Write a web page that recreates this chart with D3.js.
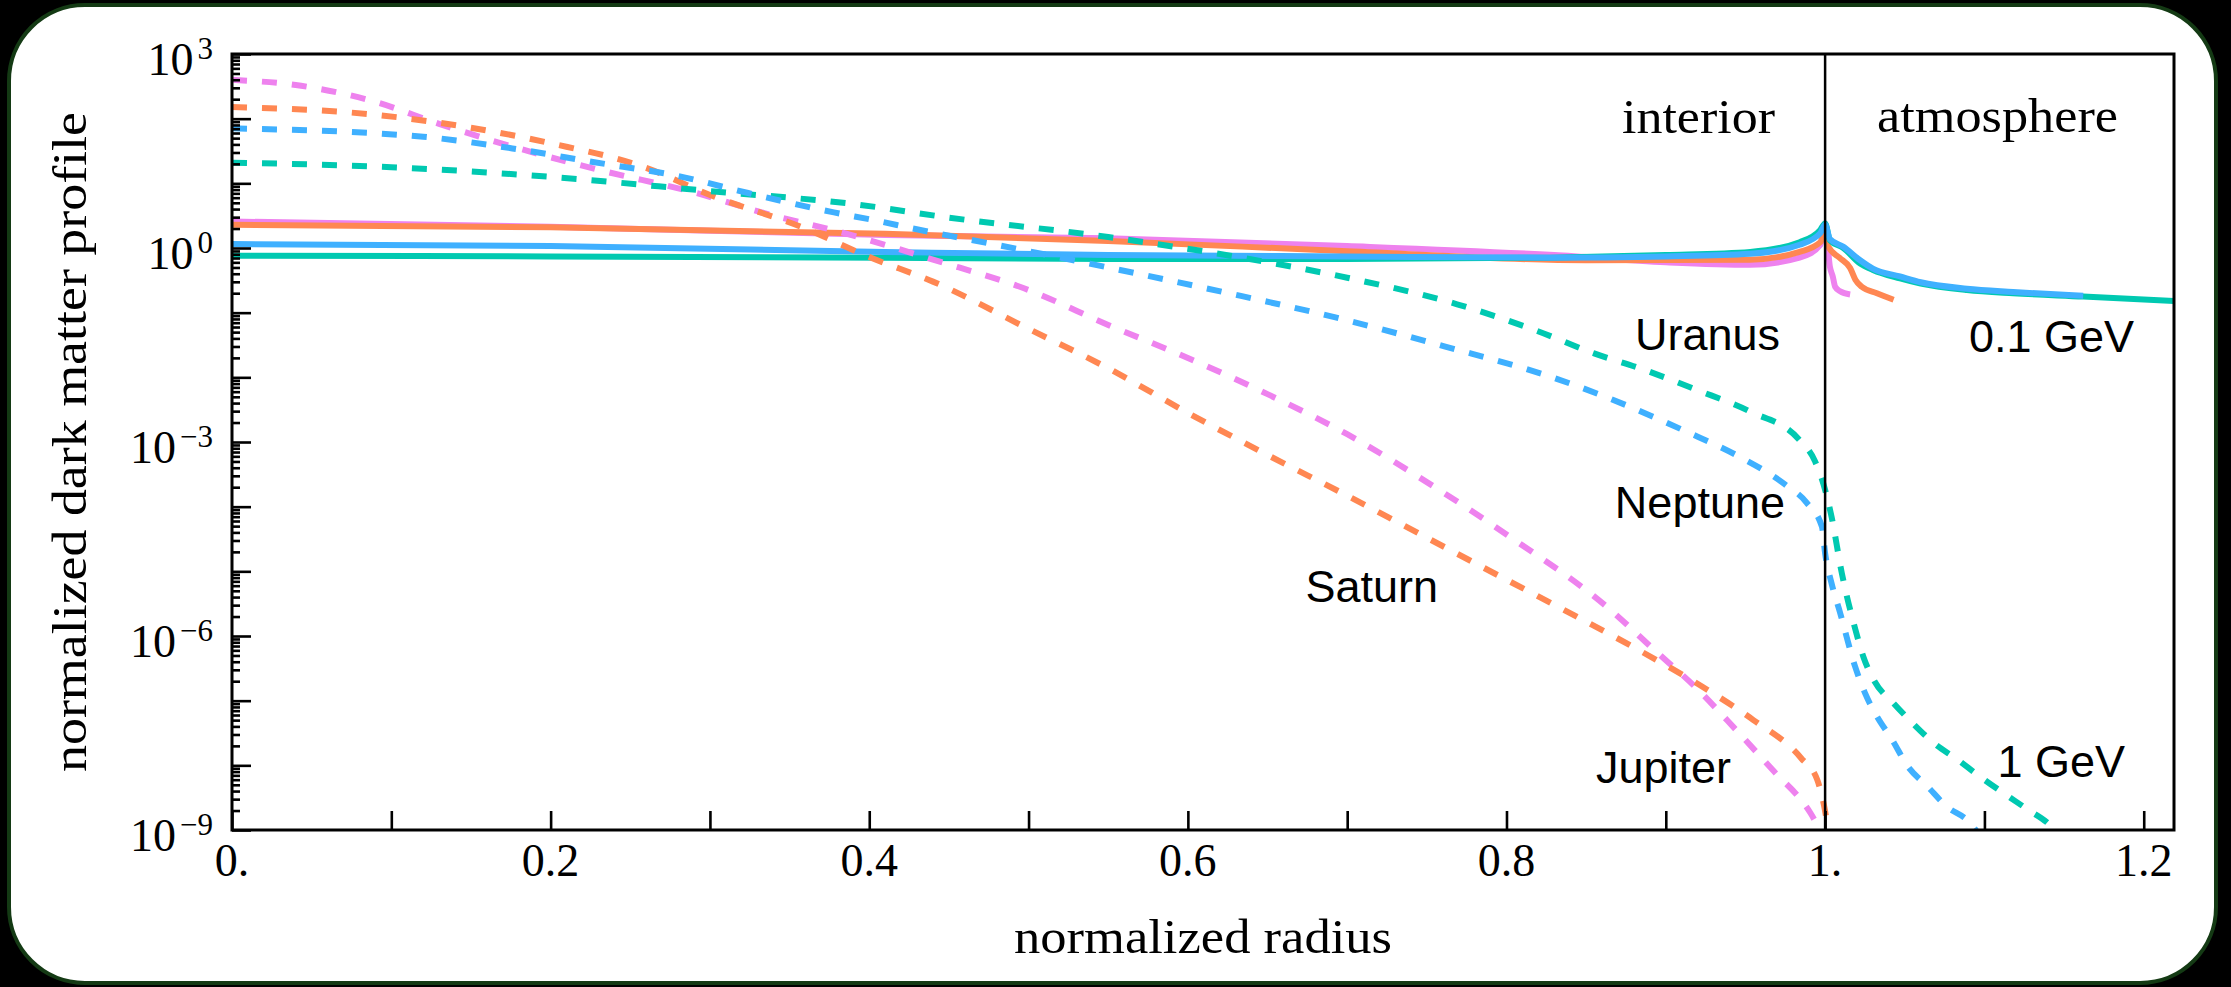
<!DOCTYPE html>
<html>
<head>
<meta charset="utf-8">
<script src="https://cdn.jsdelivr.net/npm/d3@7"></script>
<style>
  body { margin: 0; background: #000; }
  svg { display: block; }
</style>
</head>
<body>
<svg id="chart" width="2231" height="987"></svg>
<script>
// values are log10 of the normalized profile
// 0.1 GeV (solid)
const jupiterLightR = [0, 0.2, 0.41, 0.55, 0.7, 0.83, 0.9, 0.953, 0.984, 0.997, 1.0, 1.003, 1.0048, 1.0063, 1.0094, 1.0157];
const jupiterLightLog = [0.41, 0.33, 0.20, 0.15, 0.03, -0.11, -0.22, -0.26, -0.15, 0.05, 0.38, -0.29, -0.44, -0.60, -0.67, -0.72];
const saturnLightR = [0, 0.2, 0.41, 0.55, 0.7, 0.85, 0.953, 0.984, 0.997, 1.0, 1.002, 1.009, 1.0157, 1.019, 1.023, 1.0325, 1.043];
const saturnLightLog = [0.36, 0.32, 0.22, 0.11, -0.05, -0.19, -0.18, -0.06, 0.09, 0.30, 0.02, -0.15, -0.31, -0.49, -0.60, -0.70, -0.80];
const uranusLightR = [0, 0.2, 0.41, 0.55, 0.7, 0.827, 0.9, 0.953, 0.984, 0.997, 1.0, 1.003, 1.0115, 1.022, 1.030, 1.047, 1.06, 1.089, 1.118, 1.162, 1.219];
const uranusLightLog = [-0.12, -0.13, -0.15, -0.17, -0.17, -0.15, -0.11, -0.06, 0.09, 0.28, 0.38, 0.12, 0.0, -0.24, -0.34, -0.47, -0.55, -0.65, -0.70, -0.75, -0.82];
const neptuneLightR = [0, 0.2, 0.41, 0.55, 0.7, 0.827, 0.9, 0.953, 0.984, 0.997, 1.0, 1.003, 1.0115, 1.022, 1.030, 1.047, 1.06, 1.089, 1.118, 1.162];
const neptuneLightLog = [0.06, 0.03, -0.06, -0.11, -0.13, -0.15, -0.13, -0.09, 0.05, 0.23, 0.36, 0.14, 0.02, -0.19, -0.32, -0.44, -0.53, -0.63, -0.68, -0.74];

// 1 GeV (dashed)
const jupiterHeavyR = [0, 0.04, 0.09, 0.13, 0.18, 0.23, 0.29, 0.34, 0.38, 0.44, 0.50, 0.55, 0.60, 0.65, 0.70, 0.75, 0.80, 0.865, 0.8925, 0.919, 0.944, 0.967, 0.9906, 0.998];
const jupiterHeavyLog = [2.60, 2.52, 2.26, 1.92, 1.54, 1.21, 0.86, 0.50, 0.26, -0.18, -0.65, -1.19, -1.70, -2.26, -2.88, -3.62, -4.43, -5.59, -6.21, -6.80, -7.45, -8.07, -8.73, -9.05];
const saturnHeavyR = [0, 0.09, 0.15, 0.20, 0.26, 0.30, 0.36, 0.40, 0.44, 0.50, 0.55, 0.60, 0.65, 0.70, 0.75, 0.80, 0.834, 0.881, 0.926, 0.955, 0.985, 0.995, 0.9994, 1.0023];
const saturnHeavyLog = [2.18, 2.06, 1.86, 1.62, 1.24, 0.82, 0.30, -0.14, -0.52, -1.25, -1.86, -2.55, -3.20, -3.83, -4.48, -5.13, -5.57, -6.19, -6.83, -7.30, -7.89, -8.22, -8.63, -9.05];
const uranusHeavyR = [0, 0.1, 0.2, 0.3, 0.39, 0.45, 0.55, 0.629, 0.70, 0.769, 0.819, 0.855, 0.886, 0.919, 0.953, 0.984, 0.9937, 1.0, 1.004, 1.0105, 1.019, 1.024, 1.031, 1.043, 1.055, 1.068, 1.083, 1.097, 1.112, 1.127, 1.141, 1.146];
const uranusHeavyLog = [1.32, 1.25, 1.10, 0.88, 0.68, 0.47, 0.17, -0.13, -0.46, -0.87, -1.28, -1.63, -1.88, -2.19, -2.53, -2.97, -3.30, -3.74, -4.15, -5.03, -5.90, -6.32, -6.70, -7.04, -7.35, -7.65, -7.91, -8.17, -8.43, -8.68, -8.92, -9.05];
const neptuneHeavyR = [0, 0.12, 0.176, 0.2266, 0.2825, 0.324, 0.3778, 0.403, 0.4298, 0.4819, 0.5517, 0.622, 0.692, 0.761, 0.830, 0.863, 0.913, 0.9456, 0.975, 0.9885, 0.998, 1.0, 1.004, 1.0094, 1.0188, 1.025, 1.0325, 1.042, 1.052, 1.064, 1.076, 1.091, 1.096];
const neptuneHeavyLog = [1.85, 1.72, 1.54, 1.33, 1.10, 0.85, 0.55, 0.43, 0.29, 0.04, -0.31, -0.68, -1.07, -1.52, -2.01, -2.31, -2.84, -3.22, -3.66, -3.94, -4.31, -4.72, -5.18, -5.64, -6.47, -6.88, -7.24, -7.60, -8.02, -8.32, -8.63, -8.89, -9.05];

const planetColors = { Jupiter: "#ee82ee", Saturn: "#ff8752", Uranus: "#00c9b1", Neptune: "#3fb0ff" };

const xTickValues = [0, 0.1, 0.2, 0.3, 0.4, 0.5, 0.6, 0.7, 0.8, 0.9, 1.0, 1.1, 1.2];
const xLabelValues = [0, 0.2, 0.4, 0.6, 0.8, 1.0, 1.2];
const xLabels = ["0.", "0.2", "0.4", "0.6", "0.8", "1.", "1.2"];
const yLabelExponents = [3, 0, -3, -6, -9];

const width = 2231, height = 987;
const margin = { top: 54, right: 57, bottom: 157, left: 232 };
const plotRight = width - margin.right;
const plotBottom = height - margin.bottom;

const serif = "'Liberation Serif', 'Times New Roman', serif";
const sans = "'Liberation Sans', Arial, sans-serif";

const svg = d3.select("#chart");

// rounded white card
svg.append("rect")
  .attr("x", 9).attr("y", 5)
  .attr("width", 2207).attr("height", 978)
  .attr("rx", 76)
  .attr("fill", "#fff")
  .attr("stroke", "#143a14")
  .attr("stroke-width", 4);

const x = d3.scaleLinear().domain([0, 1.219]).range([margin.left, plotRight]);
const y = d3.scaleLog().domain([1e-9, 1e3]).range([plotBottom, margin.top]);

svg.append("clipPath").attr("id", "plot-clip")
  .append("rect")
  .attr("x", margin.left).attr("y", margin.top)
  .attr("width", plotRight - margin.left).attr("height", plotBottom - margin.top);

const line = d3.line()
  .x((d) => x(d[0]))
  .y((d) => y(Math.pow(10, d[1])))
  .curve(d3.curveMonotoneX);

const series = [
  { planet: "Jupiter", r: jupiterLightR, v: jupiterLightLog, dashed: false },
  { planet: "Saturn", r: saturnLightR, v: saturnLightLog, dashed: false },
  { planet: "Uranus", r: uranusLightR, v: uranusLightLog, dashed: false },
  { planet: "Neptune", r: neptuneLightR, v: neptuneLightLog, dashed: false },
  { planet: "Jupiter", r: jupiterHeavyR, v: jupiterHeavyLog, dashed: true },
  { planet: "Saturn", r: saturnHeavyR, v: saturnHeavyLog, dashed: true },
  { planet: "Uranus", r: uranusHeavyR, v: uranusHeavyLog, dashed: true },
  { planet: "Neptune", r: neptuneHeavyR, v: neptuneHeavyLog, dashed: true },
];

const curves = svg.append("g").attr("clip-path", "url(#plot-clip)");
series.forEach((s) => {
  curves.append("path")
    .datum(s.r.map((r, i) => [r, s.v[i]]))
    .attr("d", line)
    .attr("fill", "none")
    .attr("stroke", planetColors[s.planet])
    .attr("stroke-width", 6)
    .attr("stroke-dasharray", s.dashed ? "15 15" : null);
});

// axes (ticks point inward)
const yMajor = d3.range(-9, 4).map((e) => Math.pow(10, e));
const yMinor = [];
d3.range(-9, 3).forEach((e) => {
  for (let k = 2; k <= 9; k++) yMinor.push(k * Math.pow(10, e));
});

const styleAxis = (g) => {
  g.select(".domain").remove();
  g.selectAll(".tick line").attr("stroke", "#000").attr("stroke-width", 2.6);
};

svg.append("g")
  .attr("transform", `translate(${margin.left},0)`)
  .call(d3.axisLeft(y).tickValues(yMinor).tickSize(-8).tickFormat(""))
  .call(styleAxis);

svg.append("g")
  .attr("transform", `translate(${margin.left},0)`)
  .call(d3.axisLeft(y).tickValues(yMajor).tickSize(-19).tickFormat(""))
  .call(styleAxis);

svg.append("g")
  .attr("transform", `translate(0,${plotBottom})`)
  .call(d3.axisBottom(x).tickValues(xTickValues).tickSize(-19).tickFormat(""))
  .call(styleAxis);

// frame and the surface line
svg.append("rect")
  .attr("x", margin.left).attr("y", margin.top)
  .attr("width", plotRight - margin.left).attr("height", plotBottom - margin.top)
  .attr("fill", "none").attr("stroke", "#000").attr("stroke-width", 3);

svg.append("line")
  .attr("x1", x(1)).attr("x2", x(1))
  .attr("y1", margin.top).attr("y2", plotBottom)
  .attr("stroke", "#000").attr("stroke-width", 2.5);

// tick labels
xLabelValues.forEach((v, i) => {
  svg.append("text")
    .attr("x", x(v)).attr("y", 876)
    .attr("text-anchor", "middle")
    .attr("font-family", serif).attr("font-size", 46)
    .text(xLabels[i]);
});

yLabelExponents.forEach((e) => {
  const ty = y(Math.pow(10, e));
  const t = svg.append("text")
    .attr("x", 213).attr("y", ty + 21)
    .attr("text-anchor", "end")
    .attr("font-family", serif).attr("font-size", 46);
  t.append("tspan").text("10");
  t.append("tspan")
    .attr("dx", 4).attr("dy", -16)
    .attr("font-size", 31)
    .text(e < 0 ? "\u2212" + Math.abs(e) : String(e));
});

// axis titles
svg.append("text")
  .attr("x", (margin.left + plotRight) / 2).attr("y", 953)
  .attr("text-anchor", "middle")
  .attr("font-family", serif).attr("font-size", 48)
  .attr("textLength", 378).attr("lengthAdjust", "spacingAndGlyphs")
  .text("normalized radius");

svg.append("text")
  .attr("transform", `translate(86,${(margin.top + plotBottom) / 2}) rotate(-90)`)
  .attr("text-anchor", "middle")
  .attr("font-family", serif).attr("font-size", 48)
  .attr("textLength", 660).attr("lengthAdjust", "spacingAndGlyphs")
  .text("normalized dark matter profile");

// region labels
svg.append("text")
  .attr("x", 1775).attr("y", 133)
  .attr("text-anchor", "end")
  .attr("font-family", serif).attr("font-size", 48)
  .attr("textLength", 153).attr("lengthAdjust", "spacingAndGlyphs")
  .text("interior");

svg.append("text")
  .attr("x", 1877).attr("y", 132)
  .attr("font-family", serif).attr("font-size", 48)
  .attr("textLength", 241).attr("lengthAdjust", "spacingAndGlyphs")
  .text("atmosphere");

// curve annotations
const notes = [
  { text: "Uranus", x: 1780, y: 350 },
  { text: "Neptune", x: 1785, y: 518 },
  { text: "Saturn", x: 1438, y: 602 },
  { text: "Jupiter", x: 1731, y: 783 },
  { text: "0.1 GeV", x: 2134, y: 352 },
  { text: "1 GeV", x: 2125, y: 777 },
];
notes.forEach((n) => {
  svg.append("text")
    .attr("x", n.x).attr("y", n.y)
    .attr("text-anchor", "end")
    .attr("font-family", sans).attr("font-size", 45)
    .text(n.text);
});
</script>
</body>
</html>
